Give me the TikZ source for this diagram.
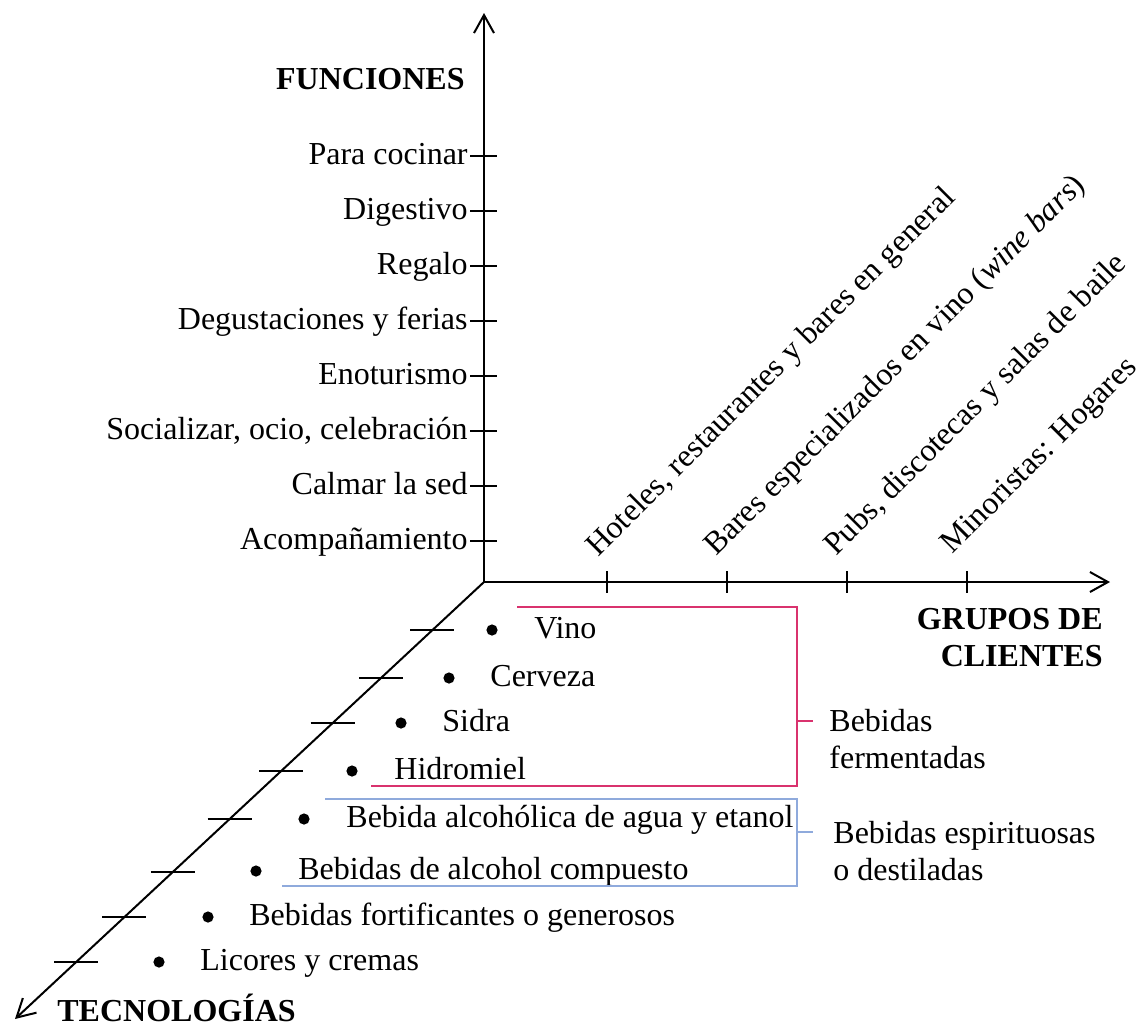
\documentclass[tikz,border=0pt]{standalone}
\usepackage{fontspec}
\setmainfont{Liberation Serif}
\usetikzlibrary{arrows.meta, positioning, calc}

\definecolor{fermpink}{RGB}{217,50,110}
\definecolor{destblue}{RGB}{143,170,220}

\begin{document}
\begin{tikzpicture}[x=0.5pt, y=-0.5pt, >={Straight Barb[length=9pt,width=10pt]},
    font=\fontsize{16}{18.5}\selectfont,
    axis/.style={->, line width=1pt},
    tickline/.style={line width=0.8pt},
    flabel/.style={anchor=base east, inner sep=0pt},
    glabel/.style={anchor=base west, inner sep=0pt, rotate=45},
    item/.style={anchor=base west, inner sep=0pt},
    title/.style={inner sep=0pt, font=\fontsize{16}{18.5}\selectfont\bfseries},
    ferm/.style={line width=0.8pt, fermpink},
    dest/.style={line width=0.8pt, destblue}]
    \useasboundingbox (0,0) rectangle (1144,1030);
        % axes
        \coordinate (o) at (484,582);
        \coordinate (ftip) at (484,13);
        \coordinate (gtip) at (1110,582);
        \coordinate (ttip) at (15,1019);
        \draw[axis] (o) -- (ftip);
        \draw[axis] (o) -- (gtip);
        \draw[axis] (o) -- (ttip);
        \node (funciones) [title, anchor=base east] at (465,89) {FUNCIONES};
        \node (grupos) [title, anchor=base east, align=right] at (1103,666) {GRUPOS DE\\CLIENTES};
        \node (tecno) [title, anchor=base west] at (57,1021) {TECNOLOGÍAS};
        % funciones
        \foreach \y in {156,211,...,541}
            \draw[tickline] (470,\y) -- (497,\y);
        \node (f8) [flabel] at (468,164) {Para cocinar};
        \node (f7) [flabel] at (468,219) {Digestivo};
        \node (f6) [flabel] at (468,274) {Regalo};
        \node (f5) [flabel] at (468,329) {Degustaciones y ferias};
        \node (f4) [flabel] at (468,384) {Enoturismo};
        \node (f3) [flabel] at (468,439) {Socializar, ocio, celebración};
        \node (f2) [flabel] at (468,494) {Calmar la sed};
        \node (f1) [flabel] at (468,549) {Acompañamiento};
        % grupos de clientes
        \foreach \x in {607,727,847,967}
            \draw[tickline] (\x,571) -- (\x,593);
        \node (g1) [glabel] at (598,558) {Hoteles, restaurantes y bares en general};
        \node (g2) [glabel] at (716,557) {Bares especializados en vino (\textit{wine bars})};
        \node (g3) [glabel] at (836,557) {Pubs, discotecas y salas de baile};
        \node (g4) [glabel] at (952,555) {Minoristas: Hogares};
        % tecnologias
        \foreach \y in {630,678,723,771,819,872,917,962}
            \draw[tickline] ($(o)!{(\y-582)/437}!(ttip) + (-22,0)$) -- ++(44,0);
        \fill (492,630) circle (2.8pt);
        \fill (449,678) circle (2.8pt);
        \fill (401,723) circle (2.8pt);
        \fill (352,771) circle (2.8pt);
        \fill (304,819) circle (2.8pt);
        \fill (256,871) circle (2.8pt);
        \fill (208,917) circle (2.8pt);
        \fill (159,962) circle (2.8pt);
        \node (t1) [item] at (534,638) {Vino};
        \node (t2) [item] at (490,686) {Cerveza};
        \node (t3) [item] at (442,731) {Sidra};
        \node (t4) [item] at (394,779) {Hidromiel};
        \node (t5) [item] at (346,827) {Bebida alcohólica de agua y etanol};
        \node (t6) [item] at (298,879) {Bebidas de alcohol compuesto};
        \node (t7) [item] at (249,925) {Bebidas fortificantes o generosos};
        \node (t8) [item] at (200,970) {Licores y cremas};
        % agrupaciones
        \draw[ferm] (517,607) -- (797,607) -- (797,786) -- (371,786);
        \draw[ferm] (797,721) -- (813,721);
        \node (fermentadas) [item, align=left] at (829,768) {Bebidas\\fermentadas};
        \draw[dest] (325,799) -- (797,799) -- (797,886) -- (282,886);
        \draw[dest] (797,832) -- (813,832);
        \node (destiladas) [item, align=left] at (833,880) {Bebidas espirituosas\\o destiladas};
    \end{tikzpicture}
\end{document}
